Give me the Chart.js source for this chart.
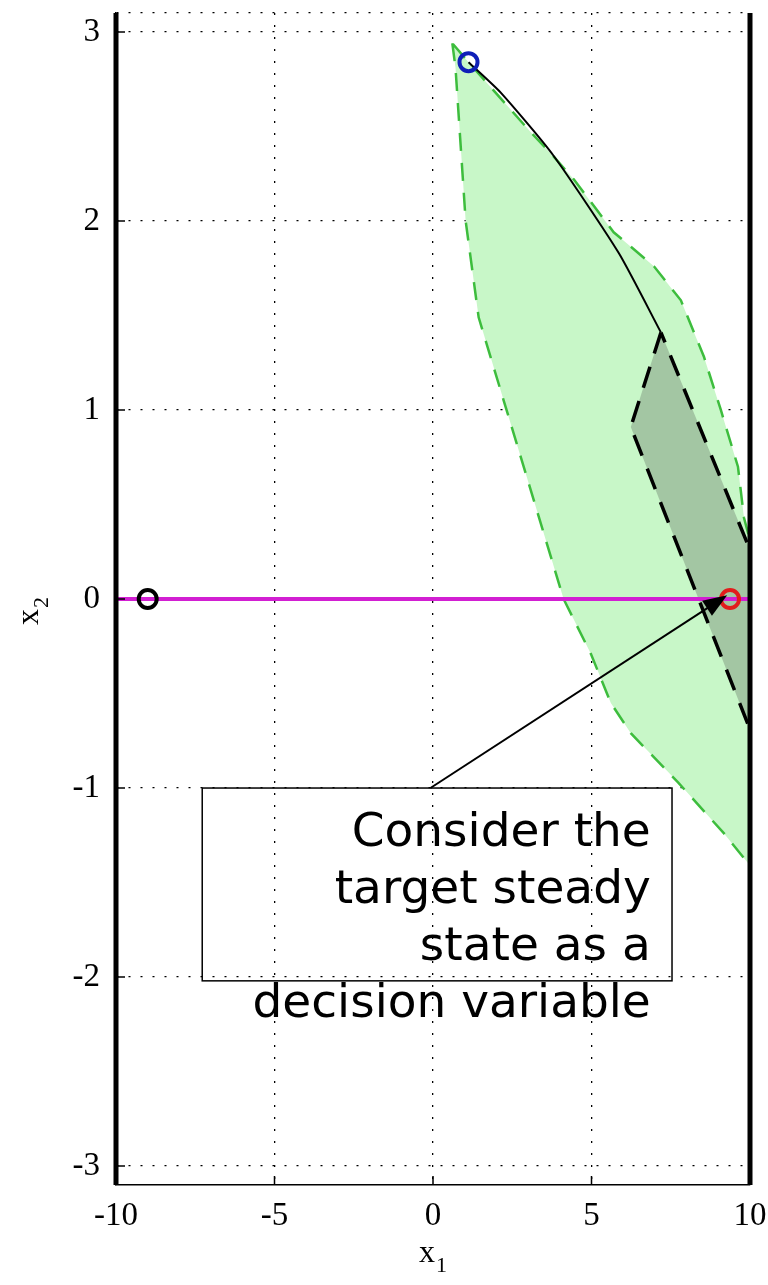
<!DOCTYPE html>
<html>
<head>
<meta charset="utf-8">
<script src="https://cdn.jsdelivr.net/npm/chart.js@4.4.1/dist/chart.umd.min.js"></script>
<style>
  html, body { margin: 0; padding: 0; background: #fff; }
  #cadre { width: 768px; height: 1285px; }
</style>
</head>
<body>
<div id="cadre"><canvas id="graphique"></canvas></div>
<script>
// Ensemble admissible (zone vert clair, contour pointillé vert)
const admissibleX = [0.61, 0.71, 1.03, 1.44, 2.23, 4.12, 4.98, 5.61, 6.24, 7.73, 9.18, 10, 10, 9.81, 9.62, 9.08, 8.55, 7.82, 6.97, 5.70, 4.44, 3.81, 3.08, 1.12, 0.61];
const admissibleY = [2.94, 2.81, 2.00, 1.49, 1.05, 0.00, -0.29, -0.55, -0.71, -0.97, -1.24, -1.41, 0.31, 0.43, 0.70, 1.00, 1.28, 1.58, 1.76, 1.94, 2.22, 2.34, 2.47, 2.84, 2.94];
// Ensemble terminal (zone foncée, contour pointillé noir)
const terminalX = [7.19, 6.24, 10, 10, 7.19];
const terminalY = [1.41, 0.91, -0.69, 0.26, 1.41];
// Trajectoire de l'état
const trajectoireX = [1.12, 2.13, 3.78, 5.86, 7.19];
const trajectoireY = [2.84, 2.68, 2.35, 1.83, 1.41];
// Ligne des régimes permanents (x2 = 0)
const ligneX = [-10, 10];
const ligneY = [0, 0];
// Contraintes sur x1
const contrainteX = [-10, 10];
const contrainteY = [-3.1, 3.1];
// Points particuliers
const etatInitial = [1.12, 2.84];
const cible = [-9, 0];
const regimePermanent = [9.37, 0];
// Graduations
const ticksX = [-10, -5, 0, 5, 10];
const ticksY = [-3, -2, -1, 0, 1, 2, 3];
const bornesX = [-10, 10];
const bornesY = [-3.1, 3.1];
// Texte de l'annotation
const texteAnnotation = ["Consider the", "target steady", "state as a", "decision variable"];

const points = (xs, ys) => xs.map((x, i) => ({ x: x, y: ys[i] }));

// Graduations intérieures, annotation et titres des axes
const habillage = {
    id: "habillage",
    afterDraw(chart) {
        const ctx = chart.ctx;
        const sx = chart.scales.x;
        const sy = chart.scales.y;
        const zone = chart.chartArea;
        ctx.save();

        // graduations vers l'intérieur
        ctx.strokeStyle = "#000";
        ctx.lineWidth = 1.5;
        ctx.beginPath();
        for (const v of ticksX) {
            const px = sx.getPixelForValue(v);
            ctx.moveTo(px, zone.bottom);
            ctx.lineTo(px, zone.bottom - 9);
        }
        for (const v of ticksY) {
            const py = sy.getPixelForValue(v);
            ctx.moveTo(zone.left, py);
            ctx.lineTo(zone.left + 9, py);
        }
        ctx.stroke();

        // cadre de l'annotation
        const bx1 = sx.getPixelForValue(-7.28);
        const bx2 = sx.getPixelForValue(7.54);
        const by1 = sy.getPixelForValue(-1);
        const by2 = sy.getPixelForValue(-2.02);
        ctx.lineWidth = 1.5;
        ctx.strokeRect(bx1, by1, bx2 - bx1, by2 - by1);

        // texte aligné à droite
        ctx.fillStyle = "#000";
        ctx.font = "47px 'DejaVu Sans'";
        ctx.textAlign = "right";
        ctx.textBaseline = "alphabetic";
        const xt = sx.getPixelForValue(6.87);
        texteAnnotation.forEach((ligne, i) => {
            ctx.fillText(ligne, xt, by1 + 58 + i * 57);
        });

        // flèche vers le régime permanent
        const ax1 = sx.getPixelForValue(-0.08);
        const ay1 = by1;
        const ax2 = sx.getPixelForValue(9.28);
        const ay2 = sy.getPixelForValue(0.02);
        const angle = Math.atan2(ay2 - ay1, ax2 - ax1);
        ctx.lineWidth = 2;
        ctx.beginPath();
        ctx.moveTo(ax1, ay1);
        ctx.lineTo(ax2 - 14 * Math.cos(angle), ay2 - 14 * Math.sin(angle));
        ctx.stroke();
        ctx.beginPath();
        ctx.moveTo(ax2, ay2);
        ctx.lineTo(ax2 - 24 * Math.cos(angle) + 9 * Math.sin(angle), ay2 - 24 * Math.sin(angle) - 9 * Math.cos(angle));
        ctx.lineTo(ax2 - 24 * Math.cos(angle) - 9 * Math.sin(angle), ay2 - 24 * Math.sin(angle) + 9 * Math.cos(angle));
        ctx.closePath();
        ctx.fill();

        // titres des axes avec indice
        ctx.textAlign = "left";
        ctx.font = "32px 'Liberation Serif'";
        const cx = sx.getPixelForValue(0);
        ctx.fillText("x", cx - 14, 1262);
        ctx.font = "22px 'Liberation Serif'";
        ctx.fillText("1", cx + 3, 1272);

        ctx.translate(38, sy.getPixelForValue(0) + 26);
        ctx.rotate(-Math.PI / 2);
        ctx.font = "32px 'Liberation Serif'";
        ctx.fillText("x", 0, 0);
        ctx.font = "22px 'Liberation Serif'";
        ctx.fillText("2", 17, 10);

        ctx.restore();
    }
};

const marqueur = (p, couleur) => ({
    data: [{ x: p[0], y: p[1] }],
    pointRadius: 9,
    pointBorderWidth: 4,
    pointBorderColor: couleur,
    pointBackgroundColor: "rgba(0,0,0,0)",
    order: 1
});

const config = {
    type: "scatter",
    data: {
        datasets: [
            {
                data: points(admissibleX, admissibleY),
                showLine: true,
                fill: "shape",
                backgroundColor: "#c8f7c8",
                borderColor: "#3dbd3d",
                borderWidth: 2.5,
                borderDash: [18, 12],
                pointRadius: 0,
                order: 10
            },
            {
                data: points(terminalX, terminalY),
                showLine: true,
                fill: "shape",
                backgroundColor: "#a3c6a3",
                borderColor: "#000",
                borderWidth: 3.5,
                borderDash: [22, 14],
                pointRadius: 0,
                order: 9
            },
            {
                data: points(trajectoireX, trajectoireY),
                showLine: true,
                borderColor: "#000",
                borderWidth: 2,
                tension: 0.2,
                pointRadius: 0,
                order: 8
            },
            {
                data: points(ligneX, ligneY),
                showLine: true,
                borderColor: "#d21fd2",
                borderWidth: 4,
                pointRadius: 0,
                order: 5
            },
            {
                data: points([contrainteX[0], contrainteX[0]], contrainteY),
                showLine: true,
                borderColor: "#000",
                borderWidth: 5,
                pointRadius: 0,
                clip: false,
                order: 4
            },
            {
                data: points([contrainteX[1], contrainteX[1]], contrainteY),
                showLine: true,
                borderColor: "#000",
                borderWidth: 5,
                pointRadius: 0,
                clip: false,
                order: 4
            },
            marqueur(etatInitial, "#0f1fb8"),
            marqueur(cible, "#000"),
            marqueur(regimePermanent, "#e21c1c")
        ]
    },
    options: {
        responsive: true,
        maintainAspectRatio: false,
        animation: false,
        layout: { padding: { top: 13, right: 18, left: 0, bottom: 0 } },
        plugins: {
            legend: { display: false },
            tooltip: { enabled: false }
        },
        scales: {
            x: {
                type: "linear",
                min: bornesX[0],
                max: bornesX[1],
                afterBuildTicks: (scale) => { scale.ticks = ticksX.map(v => ({ value: v })); },
                afterFit: (scale) => {
                    scale.height = 100;
                    scale.paddingLeft = 0;
                    scale.paddingRight = 0;
                },
                grid: { color: "#000", lineWidth: 1.3, drawTicks: false },
                border: { display: true, color: "#000", width: 1.5, dash: [2, 10] },
                ticks: {
                    color: "#000",
                    padding: 12,
                    font: { family: "'Liberation Serif'", size: 33 },
                    maxRotation: 0
                }
            },
            y: {
                type: "linear",
                min: bornesY[0],
                max: bornesY[1],
                afterBuildTicks: (scale) => { scale.ticks = ticksY.concat([bornesY[1]]).map(v => ({ value: v })); },
                afterFit: (scale) => {
                    scale.width = 116;
                    scale.paddingTop = 0;
                    scale.paddingBottom = 0;
                },
                grid: { color: "#000", lineWidth: 1.3, drawTicks: false },
                border: { display: true, color: "#000", width: 1.5, dash: [2, 10] },
                ticks: {
                    color: "#000",
                    padding: 16,
                    font: { family: "'Liberation Serif'", size: 33 },
                    callback: (v) => ticksY.includes(v) ? String(v) : ""
                }
            }
        }
    },
    plugins: [habillage]
};

new Chart(document.getElementById("graphique"), config);
</script>
</body>
</html>
